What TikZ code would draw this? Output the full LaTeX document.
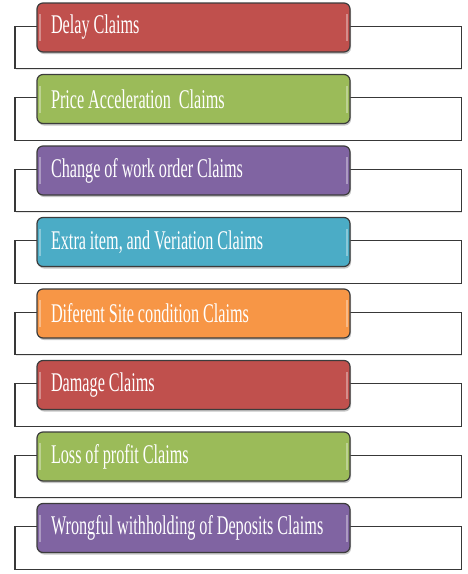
\documentclass[tikz,border=0pt]{standalone}
\usepackage{fontspec}
\newfontfamily\barfont[FakeStretch=0.6]{Liberation Serif}
\newcommand{\barsize}{\barfont\fontsize{27}{30}\selectfont\fontdimen2\font=3.9pt\fontdimen3\font=0pt\fontdimen4\font=0pt}
\usetikzlibrary{positioning,shadows,backgrounds}
\definecolor{claimred}{HTML}{C0504D}
\definecolor{claimgreen}{HTML}{9BBB59}
\definecolor{claimpurple}{HTML}{8064A2}
\definecolor{claimblue}{HTML}{4BACC6}
\definecolor{claimorange}{HTML}{F79646}
\definecolor{barline}{HTML}{3C3C3C}
\definecolor{boxline}{HTML}{383838}

\begin{document}
\begin{tikzpicture}[x=1pt,y=1pt,
  claimbar/.style={draw=barline,line width=1.2pt,rounded corners=6pt,minimum height=49pt,
    text width=285pt,inner xsep=14pt,inner ysep=0pt,outer sep=0pt,align=flush left,text=white,
    font=\barsize,
    drop shadow={opacity=0.45,shadow xshift=1pt,shadow yshift=-2pt},
    path picture={
      \draw[white,opacity=0.35,line width=1.2pt]
        ([xshift=3pt,yshift=-11pt]path picture bounding box.north west) -- ([xshift=3pt,yshift=11pt]path picture bounding box.south west)
        ([xshift=-3pt,yshift=-11pt]path picture bounding box.north east) -- ([xshift=-3pt,yshift=11pt]path picture bounding box.south east);}},
  backbox/.style={draw=boxline,line width=1.1pt,fill=white,minimum width=446.5pt,minimum height=42.5pt,inner sep=0pt,
    drop shadow={opacity=0.2,shadow xshift=0.8pt,shadow yshift=-1.2pt}}]
  \useasboundingbox (0,0) rectangle (468,-574);

  % the claim bars
  \node (delay) [claimbar,fill=claimred] at (193.5,-27.5) {Delay Claims};
  \node (price) [claimbar,fill=claimgreen,below=22.5pt of delay] {Price Acceleration\ \ Claims};
  \node (change) [claimbar,fill=claimpurple,below=22.5pt of price] {Change of work order Claims};
  \node (extra) [claimbar,fill=claimblue,below=22.5pt of change] {Extra item, and Veriation Claims};
  \node (site) [claimbar,fill=claimorange,below=22.5pt of extra] {Diferent Site condition Claims};
  \node (damage) [claimbar,fill=claimred,below=22.5pt of site] {Damage Claims};
  \node (profit) [claimbar,fill=claimgreen,below=22.5pt of damage] {Loss of profit Claims};
  \node (deposits) [claimbar,fill=claimpurple,below=22.5pt of profit] {Wrongful withholding of Deposits Claims};

  % white frames behind the bars
  \begin{scope}[on background layer]
    \node (delaybox) [backbox,xshift=44.75pt,yshift=-20pt] at (delay.center) {};
    \node (pricebox) [backbox,xshift=44.75pt,yshift=-20pt] at (price.center) {};
    \node (changebox) [backbox,xshift=44.75pt,yshift=-20pt] at (change.center) {};
    \node (extrabox) [backbox,xshift=44.75pt,yshift=-20pt] at (extra.center) {};
    \node (sitebox) [backbox,xshift=44.75pt,yshift=-20pt] at (site.center) {};
    \node (damagebox) [backbox,xshift=44.75pt,yshift=-20pt] at (damage.center) {};
    \node (profitbox) [backbox,xshift=44.75pt,yshift=-20pt] at (profit.center) {};
    \node (depositsbox) [backbox,xshift=44.75pt,yshift=-20pt] at (deposits.center) {};
  \end{scope}
\end{tikzpicture}
\end{document}
